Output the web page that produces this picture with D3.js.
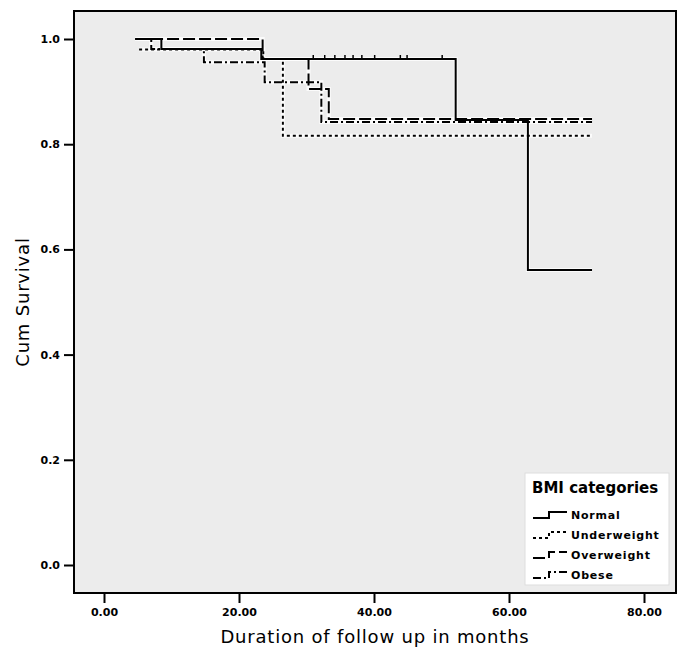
<!DOCTYPE html>
<meta charset="utf-8">
<html>
  <head>
    <title>Cum Survival by BMI categories</title>
    <script src="https://d3js.org/d3.v7.min.js"></script>
    <style>
      body{margin:0;background:#fff;}
      text{font-family:"DejaVu Sans",Arial,sans-serif;}
    </style>
  </head>
  <body>
    <div id="chart"></div>
  <script>
    var width=689,
        height=660;

    // step curves: [time in months, cumulative survival]
    var categories=["Normal","Underweight","Overweight","Obese"];
    var normalSteps=[[5,1.0],[8.5,0.981],[23.3,0.962],[52.1,0.846],[62.8,0.561],[72.3,0.561]];
    var underweightSteps=[[5.2,0.98],[23.6,0.962],[26.5,0.816],[72.3,0.816]];
    var overweightSteps=[[4.6,1.0],[23.5,0.962],[30.3,0.905],[33.3,0.848],[72.3,0.848]];
    var obeseSteps=[[5.5,1.0],[7,0.981],[14.8,0.956],[23.8,0.918],[32.2,0.842],[72.3,0.842]];
    var normalCensored=[31,32.7,34.2,35.7,36.9,38.2,40.1,43.9,44.9,50.1];

    var xTicks=[0,20,40,60,80];
    var yTicks=[0,0.2,0.4,0.6,0.8,1.0];

    var series=[normalSteps,underweightSteps,overweightSteps,obeseSteps];
    var dashes=[null,"3,3","12,4","8,3,2,3"];

    var svg=d3.select("#chart").append("svg")
        .attr("width",width)
        .attr("height",height);

    var x=d3.scaleLinear().domain([0,80]).range([104,644]);
    var y=d3.scaleLinear().domain([0,1]).range([565,39]);

    // plot frame
    svg.append("rect")
      .attr("x",74).attr("y",11)
      .attr("width",602).attr("height",582)
      .style("fill","#ececec")
      .attr("stroke","black")
      .attr("stroke-width",2);

    // axes
    var xAxis=d3.axisBottom(x).tickValues(xTicks)
      .tickFormat(d3.format(".2f")).tickSize(10).tickPadding(5);
    var yAxis=d3.axisLeft(y).tickValues(yTicks)
      .tickFormat(d3.format(".1f")).tickSize(10).tickPadding(4);

    var gx=svg.append("g").attr("transform","translate(0,593)").call(xAxis);
    var gy=svg.append("g").attr("transform","translate(74,0)").call(yAxis);
    [gx,gy].forEach(function(g){
      g.select(".domain").remove();
      g.selectAll(".tick line").attr("stroke","black").attr("stroke-width",2);
      g.selectAll(".tick text")
        .style("font-family","DejaVu Sans")
        .style("font-size","11px")
        .style("font-weight","bold")
        .attr("fill","black");
    });

    // step lines
    var line=d3.line()
      .x(function(d){return x(d[0])})
      .y(function(d){return y(d[1])})
      .curve(d3.curveStepAfter);

    var linesG=svg.append("g");
    series.forEach(function(s,i){
      linesG.append("path")
        .attr("d",line(s))
        .attr("fill","none")
        .attr("stroke","white")
        .attr("stroke-opacity",0.8)
        .attr("stroke-width",4);
    });
    series.forEach(function(s,i){
      linesG.append("path")
        .attr("d",line(s))
        .attr("fill","none")
        .attr("stroke","black")
        .attr("stroke-width",2)
        .attr("stroke-dasharray",dashes[i]);
    });

    // censor marks on Normal
    linesG.selectAll("line.cens")
      .data(normalCensored).enter().append("line")
      .attr("class","cens")
      .attr("x1",function(d){return x(d)})
      .attr("x2",function(d){return x(d)})
      .attr("y1",y(0.962))
      .attr("y2",y(0.962)-4)
      .attr("stroke","black")
      .attr("stroke-width",1.5);

    // axis titles
    svg.append("text")
      .text("Duration of follow up in months")
      .attr("x",375).attr("y",643)
      .attr("text-anchor","middle")
      .style("font-size","18px")
      .style("letter-spacing","0.8px");
    svg.append("text")
      .text("Cum Survival")
      .attr("transform","translate(29,302) rotate(-90)")
      .attr("text-anchor","middle")
      .style("font-size","18px")
      .style("letter-spacing","0.8px");

    // legend
    var legend=svg.append("g").attr("transform","translate(525,473)");
    legend.append("rect")
      .attr("width",144).attr("height",112)
      .style("fill","white")
      .attr("stroke","#ddd");
    legend.append("text")
      .text("BMI categories")
      .attr("x",7).attr("y",20)
      .style("font-size","15px")
      .style("font-weight","bold");
    var item=legend.selectAll("g.item")
      .data(categories).enter().append("g")
      .attr("class","item")
      .attr("transform",function(d,i){return "translate(8,"+(42+i*20)+")"});
    item.append("path")
      .attr("d","M0,3 H16 V-3 H34")
      .attr("fill","none")
      .attr("stroke","black")
      .attr("stroke-width",2)
      .attr("stroke-dasharray",function(d,i){return dashes[i]});
    item.append("text")
      .text(function(d){return d})
      .attr("x",38).attr("y",4)
      .style("font-size","11px")
      .style("font-weight","bold")
      .style("letter-spacing","0.8px");
  </script>
  </body>
</html>
